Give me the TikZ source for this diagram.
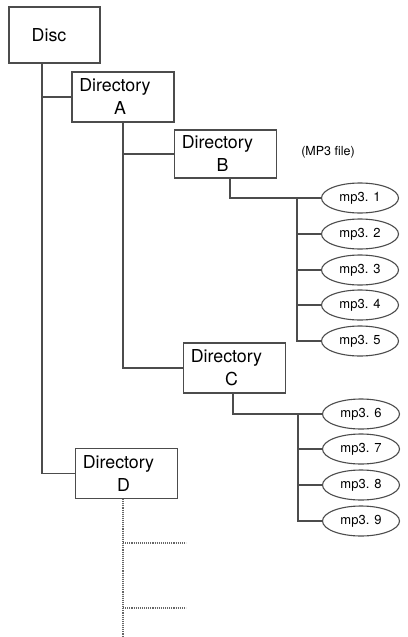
\documentclass[tikz,border=0pt]{standalone}
\usepackage{fontspec}
\setmainfont{TeX Gyre Heros}
\usepackage{tikz}
\usetikzlibrary{backgrounds,shapes}
\pgfdeclarelayer{edgelayer}
\pgfdeclarelayer{nodelayer}
\pgfsetlayers{edgelayer,nodelayer,main}
\newcommand{\dirname}[1]{Directory\hspace*{16pt}\\#1\hspace*{6pt}}
\tikzstyle{none}=[inner sep=0pt]
\tikzstyle{empty}=[fill=none,draw=none,inner sep=0pt,font=\fontsize{12.5}{14}\selectfont]
\tikzstyle{folder}=[rectangle,fill=white,draw=black!70,line width=1.1,minimum width=102,minimum height=50,align=center,font=\fontsize{17.8}{23}\selectfont]
\tikzstyle{track}=[ellipse,fill=white,draw=black!70,line width=1.1,minimum width=77,minimum height=30,inner sep=0pt,font=\fontsize{13}{15}\selectfont]
\tikzstyle{branch}=[-,draw=black!70,line width=1.1]
\tikzstyle{dots}=[-,draw=black!60,densely dotted,line width=1.1]

\begin{document}
\begin{tikzpicture}[x=1pt,y=-1pt]
	\useasboundingbox (0,0) rectangle (407,637);
	\begin{pgfonlayer}{nodelayer}
		\node [style=folder,minimum width=91,minimum height=56] (disc) at (54.5, 35) {Disc\hspace*{11pt}};
		\node [style=folder] (dirA) at (123, 97) {\dirname{A}};
		\node [style=folder,minimum height=48] (dirB) at (225.5, 154) {\dirname{B}};
		\node [style=folder] (dirC) at (234.5, 368) {\dirname{C}};
		\node [style=folder] (dirD) at (126.5, 473.5) {\dirname{D}};

		\node [style=empty] (mp3file) at (328, 152) {(MP3 file)};

		\node [style=track] (mp1) at (360, 198) {mp3. 1};
		\node [style=track] (mp2) at (360, 234) {mp3. 2};
		\node [style=track] (mp3) at (360, 270) {mp3. 3};
		\node [style=track] (mp4) at (360, 305) {mp3. 4};
		\node [style=track] (mp5) at (360, 341) {mp3. 5};

		\node [style=track] (mp6) at (361, 414) {mp3. 6};
		\node [style=track] (mp7) at (361, 449) {mp3. 7};
		\node [style=track] (mp8) at (361, 485) {mp3. 8};
		\node [style=track] (mp9) at (361, 521) {mp3. 9};

		\node [style=none] (discL) at (42, 63) {};
		\node [style=none] (bTop) at (230, 178) {};
		\node [style=none] (busB) at (297, 198) {};
		\node [style=none] (cTop) at (233, 393) {};
		\node [style=none] (busC) at (298, 414) {};

		\node [style=none] (dTop) at (123, 499) {};
		\node [style=none] (dEnd) at (123, 637) {};
		\node [style=none] (d1) at (123, 543) {};
		\node [style=none] (d1e) at (186, 543) {};
		\node [style=none] (d2) at (123, 608) {};
		\node [style=none] (d2e) at (186, 608) {};
	\end{pgfonlayer}
	\begin{pgfonlayer}{edgelayer}
		\draw [style=branch] (discL.center) |- (dirA.west);
		\draw [style=branch] (discL.center) |- (dirD.west);
		\draw [style=branch] (dirA.south) |- (dirB.west);
		\draw [style=branch] (dirA.south) |- (dirC.west);
		\draw [style=branch] (bTop.center) |- (mp1.west);
		\foreach \i in {2,...,5}
			\draw [style=branch] (busB.center) |- (mp\i.west);
		\draw [style=branch] (cTop.center) |- (mp6.west);
		\foreach \i in {7,8,9}
			\draw [style=branch] (busC.center) |- (mp\i.west);
		\draw [style=dots] (dTop.center) to (dEnd.center);
		\draw [style=dots] (d1.center) to (d1e.center);
		\draw [style=dots] (d2.center) to (d2e.center);
	\end{pgfonlayer}
\end{tikzpicture}
\end{document}
